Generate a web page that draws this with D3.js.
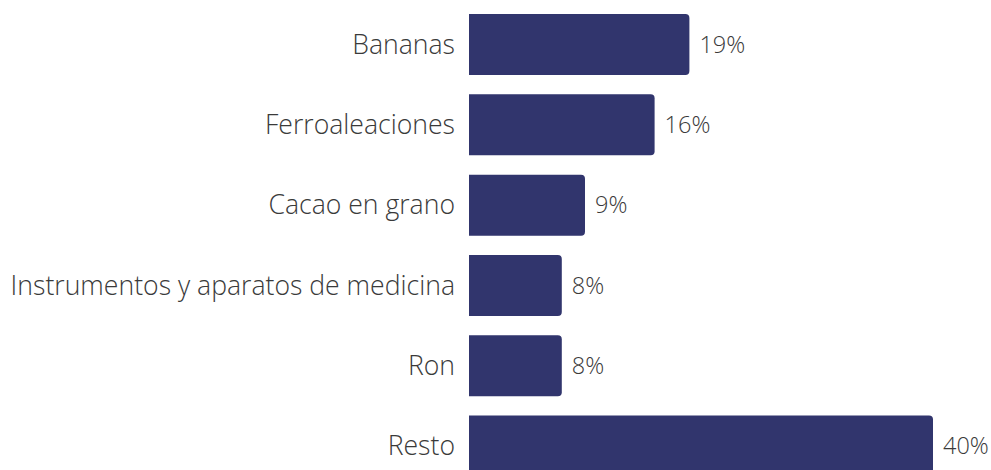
<!DOCTYPE html>
<html>
<head>
<meta charset="utf-8">
<script src="https://cdn.jsdelivr.net/npm/d3@7"></script>
<style>
  html, body { margin: 0; padding: 0; background: #fff; }
  svg { display: block; }
  text { font-family: "Open Sans", sans-serif; font-weight: 300; fill: #3a3a3a; }
</style>
</head>
<body>
<div id="chart"></div>
<script>
// data
var categories = ["Bananas", "Ferroaleaciones", "Cacao en grano", "Instrumentos y aparatos de medicina", "Ron", "Resto"];
var values = [19, 16, 10, 8, 8, 40];
var valueLabels = ["19%", "16%", "9%", "8%", "8%", "40%"];

var width = 991, height = 470;

var svg = d3.select("#chart").append("svg")
    .attr("width", width)
    .attr("height", height);

// scales
var x = d3.scaleLinear().domain([0, 40]).range([469, 933]);
var y = d3.scaleBand()
    .domain(categories)
    .range([4.4, 486.2])
    .paddingInner(0.24)
    .paddingOuter(0.12);

var rows = categories.map(function(c, i) {
  return { cat: c, value: values[i], label: valueLabels[i] };
});

// bar with rounded right corners only
function barPath(d) {
  var x0 = x(0), x1 = x(d.value), y0 = y(d.cat), h = y.bandwidth(), r = 4;
  return "M" + x0 + "," + y0 +
    "H" + (x1 - r) +
    "Q" + x1 + "," + y0 + " " + x1 + "," + (y0 + r) +
    "V" + (y0 + h - r) +
    "Q" + x1 + "," + (y0 + h) + " " + (x1 - r) + "," + (y0 + h) +
    "H" + x0 + "Z";
}

svg.selectAll(".bar")
    .data(rows)
  .enter().append("path")
    .attr("class", "bar")
    .attr("fill", "#31356d")
    .attr("d", barPath);

// category labels
svg.selectAll(".cat")
    .data(rows)
  .enter().append("text")
    .attr("class", "cat")
    .attr("x", 455)
    .attr("y", function(d) { return y(d.cat) + y.bandwidth() / 2; })
    .attr("dy", "0.35em")
    .attr("text-anchor", "end")
    .style("font-size", "26.6px")
    .text(function(d) { return d.cat; });

// value labels
svg.selectAll(".val")
    .data(rows)
  .enter().append("text")
    .attr("class", "val")
    .attr("x", function(d) { return x(d.value) + 10; })
    .attr("y", function(d) { return y(d.cat) + y.bandwidth() / 2; })
    .attr("dy", "0.35em")
    .style("font-size", "23.5px")
    .text(function(d) { return d.label; });
</script>
</body>
</html>
